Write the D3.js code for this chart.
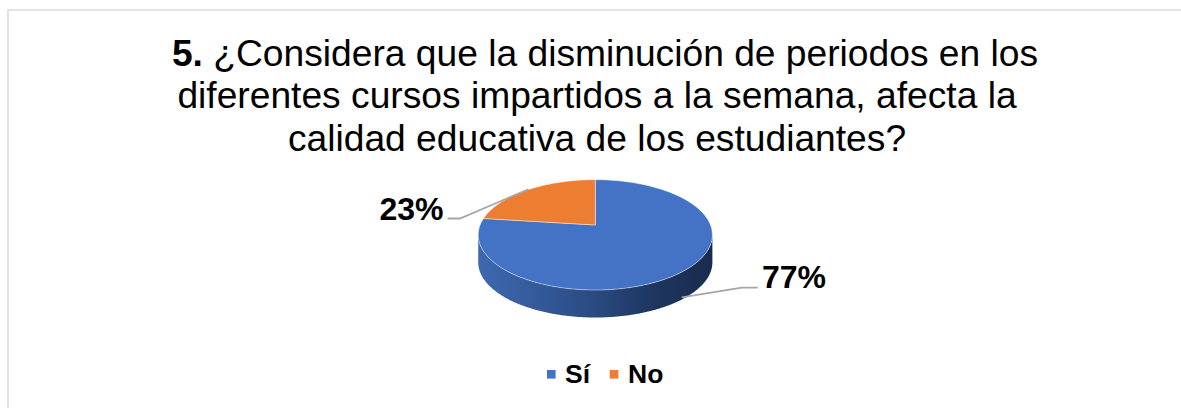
<!DOCTYPE html>
<html>
<head>
<meta charset="utf-8">
<script src="https://cdn.jsdelivr.net/npm/d3@7"></script>
<style>
html,body{margin:0;padding:0;background:#fff;}
svg{display:block;font-family:"Liberation Sans",Arial,sans-serif;}
</style>
</head>
<body>
<svg id="c" width="1181" height="408"></svg>
<script>
const categories = ["Sí", "No"];
const values = [77, 23];
const percentLabels = ["77%", "23%"];
const colors = ["#4472c4", "#ed7d31"];
const titleLines = [
  [["5. ", true], ["¿Considera que la disminución de periodos en los", false]],
  [["diferentes cursos impartidos a la semana, afecta la", false]],
  [["calidad educativa de los estudiantes?", false]]
];

const svg = d3.select("#c");
const W = 1181, H = 408;

svg.append("rect").attr("x", 8).attr("y", 10).attr("width", W + 20).attr("height", H + 20)
  .attr("fill", "#fff").attr("stroke", "#d9d9d9").attr("stroke-width", 1.5);

// title
const title = svg.append("g").attr("text-anchor", "middle").attr("fill", "#000");
const titleX = [605, 597, 597];
const titleY = [66, 108, 151];
titleLines.forEach((parts, i) => {
  const t = title.append("text").attr("x", titleX[i]).attr("y", titleY[i])
    .attr("font-size", 37.2);
  parts.forEach(p => t.append("tspan").attr("font-weight", p[1] ? "700" : "400").text(p[0]));
});

// perspective projection of a unit disc on to the page
const cx = 595.3, depth = 27.5, k = -0.1786, cRad = 115.2;
const project = (a, r = 1) => {
  const u = r * Math.sin(a), v = -r * Math.cos(a), w = 1 + k * v;
  return [cx + cRad * u / w, (13.2 * v + 225) / w];
};
const pie = d3.pie().sort(null).startAngle(0).endAngle(2 * Math.PI)(values);
const steps = d => d3.range(0, 121).map(i => d.startAngle + (d.endAngle - d.startAngle) * i / 120);
const line = d3.line();

const defs = svg.append("defs");
const grad = defs.append("linearGradient").attr("id", "side")
  .attr("gradientUnits", "userSpaceOnUse").attr("x1", 478).attr("x2", 712).attr("y1", 0).attr("y2", 0);
[[0, "#3f68b0"], [0.25, "#345a9b"], [0.5, "#2a4a80"], [0.75, "#1e3660"], [1, "#192b4f"]]
  .forEach(s => grad.append("stop").attr("offset", s[0]).attr("stop-color", s[1]));

// extruded wall from the visible lower half of the rim
const rim = d3.range(0, 361).map(i => project(i * Math.PI / 180));
const iL = d3.minIndex(rim, p => p[0]), iR = d3.maxIndex(rim, p => p[0]);
const front = rim.slice(iR, iL + 1);
const wall = front.concat(front.slice().reverse().map(p => [p[0], p[1] + depth]));
svg.append("path").attr("d", line(wall) + "Z").attr("fill", "url(#side)");

// top faces
pie.forEach((d, i) => {
  const pts = [project(0, 0)].concat(steps(d).map(a => project(a)));
  svg.append("path").attr("d", line(pts) + "Z")
    .attr("fill", colors[i]).attr("stroke", "#fff").attr("stroke-opacity", 0.55)
    .attr("stroke-width", 0.8).attr("stroke-linejoin", "round");
});

// leader lines
const leaders = [
  [[681.7, 297.3], [741.7, 287.7], [757.7, 287.7]],
  [[528.3, 189.3], [460, 218.5], [447.5, 218.5]]
];
leaders.forEach(l => svg.append("path").attr("d", line(l)).attr("fill", "none")
  .attr("stroke", "#a6a6a6").attr("stroke-width", 1.8));

// data labels
const labelPos = [[794, 288], [411.5, 219.5]];
percentLabels.forEach((t, i) => svg.append("text").attr("x", labelPos[i][0]).attr("y", labelPos[i][1])
  .attr("text-anchor", "middle").attr("font-size", 32).attr("font-weight", 700).attr("fill", "#000").text(t));

// legend
const legendX = [[547, 565], [609.7, 628]];
categories.forEach((c, i) => {
  svg.append("rect").attr("x", legendX[i][0]).attr("y", 370).attr("width", 8.6).attr("height", 8.6).attr("fill", colors[i]);
  svg.append("text").attr("x", legendX[i][1]).attr("y", 383.3).attr("font-size", 26.5).attr("font-weight", 700).attr("fill", "#000").text(c);
});
</script>
</body>
</html>
